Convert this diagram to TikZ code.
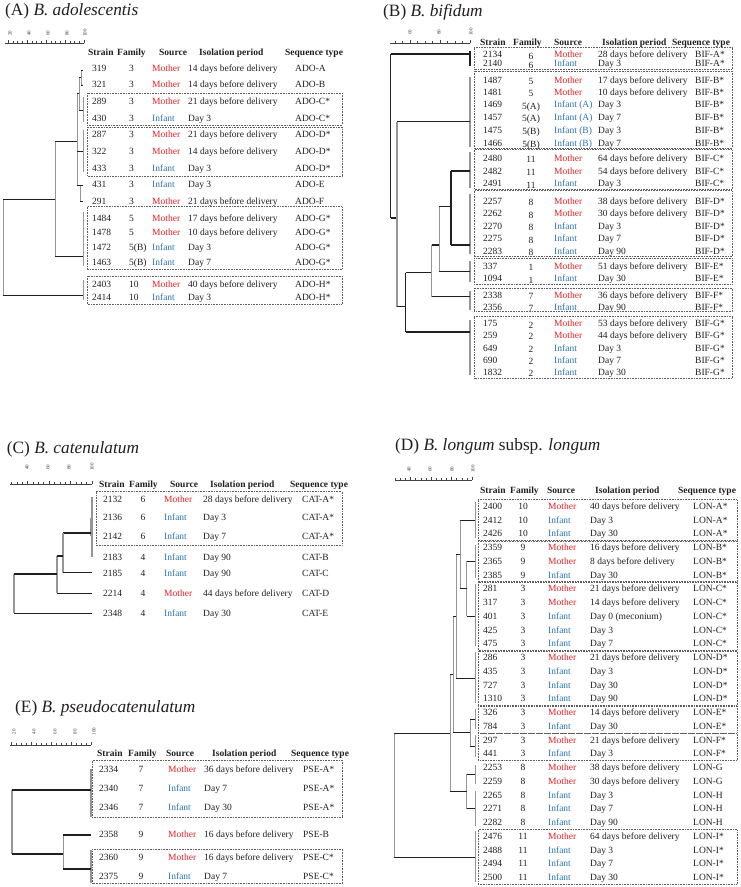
\documentclass[tikz,border=0pt]{standalone}
\usepackage{fontspec}
\setmainfont{Liberation Serif}
\definecolor{mred}{RGB}{228,34,38}
\definecolor{iblue}{RGB}{46,117,182}
\definecolor{boxgray}{RGB}{95,95,95}
\definecolor{lgray}{RGB}{150,150,150}
\definecolor{txtc}{RGB}{35,31,32}
\tikzset{
 txt/.style={font=\fontsize{9.5}{11}\selectfont, anchor=base west, inner sep=0pt, text=txtc},
 ctr/.style={txt, anchor=base},
 hdr/.style={txt, font=\fontsize{9.5}{11}\selectfont\bfseries},
 mo/.style={txt, text=mred},
 inf/.style={txt, text=iblue},
 ttl/.style={font=\fontsize{17.3}{20}\selectfont, anchor=base west, inner sep=0pt, text=txtc},
 sclab/.style={font=\fontsize{5}{6}\selectfont, rotate=90, inner sep=0pt, text=txtc!85},
 rul/.style={line width=0.5pt, draw=txtc!85},
 grp/.style={draw=boxgray, densely dotted, line width=0.6pt},
 dh/.style={line width=1pt, draw=txtc},
 dv/.style={line width=1pt, draw=lgray},
}
\begin{document}
\begin{tikzpicture}[x=1pt,y=-1pt]
\fill[white] (0,0) rectangle (740,887);
\useasboundingbox (0,0) rectangle (740,887);

%% ================= Panel A =================
\node[ttl] (A-title) at (5,15.5) {(A) \textit{B. adolescentis}};
\draw[rul] (5,43) -- (84,43);
\foreach \k in {0,...,16} \draw[rul] ({84-\k*4.75},43) -- ++(0,-1.8);
\foreach \k in {0,...,4} \draw[rul] ({84-\k*19},43) -- ++(0,-3.5);
\foreach \x/\l in {10/20,29/40,48/60,67/80,85/100}
  \node[sclab] (A-l\l) at (\x,33) {\l};
\foreach \x/\h [count=\i] in {88/Strain,117/Family,159/Source,199/Isolation period,285/Sequence type}
  \node[hdr] (A-h\i) at (\x,55.6) {\h};
\foreach \y/\sn/\fam/\sty/\src/\iso/\seq in {
 68.3/319/3/mo/Mother/14 days before delivery/ADO-A,
 84/321/3/mo/Mother/14 days before delivery/ADO-B,
 100.7/289/3/mo/Mother/21 days before delivery/ADO-C*,
 117.7/430/3/inf/Infant/Day 3/ADO-C*,
 134.3/287/3/mo/Mother/21 days before delivery/ADO-D*,
 151/322/3/mo/Mother/14 days before delivery/ADO-D*,
 167.7/433/3/inf/Infant/Day 3/ADO-D*,
 184.3/431/3/inf/Infant/Day 3/ADO-E,
 200.7/291/3/mo/Mother/21 days before delivery/ADO-F,
 217.7/1484/5/mo/Mother/17 days before delivery/ADO-G*,
 232.3/1478/5/mo/Mother/10 days before delivery/ADO-G*,
 247.3/1472/5(B)/inf/Infant/Day 3/ADO-G*,
 261.7/1463/5(B)/inf/Infant/Day 7/ADO-G*,
 284/2403/10/mo/Mother/40 days before delivery/ADO-H*,
 297/2414/10/inf/Infant/Day 3/ADO-H*}{
 \node[txt] (A-\sn-s) at (92,\y+3.3) {\sn};
 \node[txt] (A-\sn-f) at (129,\y+3.3) {\fam};
 \node[\sty] (A-\sn-o) at (152,\y+3.3) {\src};
 \node[txt] (A-\sn-i) at (188,\y+3.3) {\iso};
 \node[txt] (A-\sn-q) at (295,\y+3.3) {\seq};
}
\draw[grp] (87,93) rectangle (342,125);
\draw[grp] (87,127) rectangle (342,176);
\draw[grp] (87,206.7) rectangle (342,269.3);
\draw[grp] (87,276) rectangle (342,304);
% dendrogram A
\draw[dv] (83,97) -- (83,122);
\draw[dv] (83,130) -- (83,172);
\draw[dv] (83,212) -- (83,266);
\draw[dv] (83,280) -- (83,300);
\draw[dv] (81,70) -- (81,85);
\draw[dh] (81,70) -- (83,70); \draw[dh] (81,85) -- (83,85);
\draw[dv] (79,77.5) -- (79,110);
\draw[dh] (79,77.5) -- (81,77.5); \draw[dh] (79,110) -- (83,110);
\draw[dv] (77,93.7) -- (77,185);
\draw[dh] (77,93.7) -- (79,93.7); \draw[dh] (77,151) -- (83,151); \draw[dh] (77,185) -- (80,185);
\draw[dv] (80,185) -- (80,201);
\draw[dh] (80,185) -- (83,185); \draw[dh] (80,201) -- (83,201);
\draw[dv] (55,141) -- (55,256.7);
\draw[dh] (55,141) -- (77,141); \draw[dh] (55,256.7) -- (83,256.7);
\draw[dv] (3,199) -- (3,295);
\draw[dh] (3,199) -- (55,199); \draw[dh] (3,295) -- (83,295);

%% ================= Panel B =================
\node[ttl] (B-title) at (383,16) {(B) \textit{B. bifidum}};
\draw[rul] (390,43) -- (470,43);
\foreach \k in {0,...,10} \draw[rul] ({470-\k*7.5},43) -- ++(0,-1.8);
\foreach \k in {0,...,2} \draw[rul] ({470-\k*30},43) -- ++(0,-3.5);
\foreach \x/\l in {410/60,439/80,471/100}
  \node[sclab] (B-l\l) at (\x,32) {\l};
\foreach \x/\h [count=\i] in {480/Strain,513/Family,554/Source,602/Isolation period,672/Sequence type}
  \node[hdr] (B-h\i) at (\x,45.3) {\h};
\foreach \y/\sn/\fam/\sty/\src/\iso/\seq in {
 54.3/2134/6/mo/Mother/28 days before delivery/BIF-A*,
 63.3/2140/6/inf/Infant/Day 3/BIF-A*,
 80/1487/5/mo/Mother/17 days before delivery/BIF-B*,
 91.7/1481/5/mo/Mother/10 days before delivery/BIF-B*,
 104.3/1469/5(A)/inf/Infant (A)/Day 3/BIF-B*,
 116.7/1457/5(A)/inf/Infant (A)/Day 7/BIF-B*,
 130/1475/5(B)/inf/Infant (B)/Day 3/BIF-B*,
 142.7/1466/5(B)/inf/Infant (B)/Day 7/BIF-B*,
 158/2480/11/mo/Mother/64 days before delivery/BIF-C*,
 171/2482/11/mo/Mother/54 days before delivery/BIF-C*,
 183.3/2491/11/inf/Infant/Day 3/BIF-C*,
 200.7/2257/8/mo/Mother/38 days before delivery/BIF-D*,
 213.3/2262/8/mo/Mother/30 days before delivery/BIF-D*,
 225.7/2270/8/inf/Infant/Day 3/BIF-D*,
 238.3/2275/8/inf/Infant/Day 7/BIF-D*,
 250.7/2283/8/inf/Infant/Day 90/BIF-D*,
 266/337/1/mo/Mother/51 days before delivery/BIF-E*,
 278.3/1094/1/inf/Infant/Day 30/BIF-E*,
 295/2338/7/mo/Mother/36 days before delivery/BIF-F*,
 306.7/2356/7/inf/Infant/Day 90/BIF-F*,
 323.3/175/2/mo/Mother/53 days before delivery/BIF-G*,
 335/259/2/mo/Mother/44 days before delivery/BIF-G*,
 347.7/649/2/inf/Infant/Day 3/BIF-G*,
 360/690/2/inf/Infant/Day 7/BIF-G*,
 371.7/1832/2/inf/Infant/Day 30/BIF-G*}{
 \node[txt] (B-\sn-s) at (483,\y+3.3) {\sn};
 \node[ctr] (B-\sn-f) at (531,\y+4.8) {\fam};
 \node[\sty] (B-\sn-o) at (554,\y+3.3) {\src};
 \node[txt] (B-\sn-i) at (598,\y+3.3) {\iso};
 \node[txt] (B-\sn-q) at (695,\y+3.3) {\seq};
}
\draw[grp] (474,47.7) rectangle (732,69.3);
\draw[grp] (474,71) rectangle (732,148);
\draw[grp] (474,149.5) rectangle (732,189);
\draw[grp] (474,190.7) rectangle (732,256.7);
\draw[grp] (474,258.3) rectangle (732,284);
\draw[grp] (474,288) rectangle (732,311.7);
\draw[grp] (474,316.7) rectangle (732,378.3);
% dendrogram B
\begin{scope}[dh/.append style={line width=1.2pt}, dv/.append style={line width=1.2pt}]
\draw[dh] (470,51) -- (470,66);
\draw[dv] (470,77) -- (470,147);
\draw[dv] (470,152) -- (470,188);
\draw[dv] (470,194) -- (470,254);
\draw[dv] (470,261) -- (470,282);
\draw[dv] (470,291) -- (470,310);
\draw[dv] (470,320) -- (470,375);
\draw[dh] (390.7,54) -- (390.7,218);
\draw[dh] (390.7,54) -- (470,54); \draw[dh] (390.7,218) -- (397,218);
\draw[dv] (397,121.7) -- (397,306.7);
\draw[dh] (397,121.7) -- (470,121.7); \draw[dh] (397,306.7) -- (405.7,306.7);
\draw[dh] (405.7,272.7) -- (405.7,332);
\draw[dh] (405.7,272.7) -- (431.7,272.7); \draw[dh] (405.7,332) -- (470,332);
\draw[dv] (431.7,245) -- (431.7,296.7);
\draw[dh] (431.7,245) -- (439.3,245); \draw[dh] (431.7,296.7) -- (470,296.7);
\draw[dv] (439.3,206.7) -- (439.3,271.7);
\draw[dh] (439.3,206.7) -- (451,206.7); \draw[dh] (439.3,271.7) -- (470,271.7);
\draw[dh] (451,171) -- (451,245);
\draw[dh] (451,171) -- (470,171); \draw[dh] (451,245) -- (470,245);
\end{scope}

%% ================= Panel C =================
\node[ttl] (C-title) at (6.7,453) {(C) \textit{B. catenulatum}};
\draw[rul] (10,484) -- (92,484);
\foreach \k in {0,...,15} \draw[rul] ({92-\k*5.375},484) -- ++(0,-1.8);
\foreach \k in {0,...,3} \draw[rul] ({92-\k*21.5},484) -- ++(0,-3.5);
\foreach \x/\l in {27/40,48/60,69/80,92/100}
  \node[sclab] (C-l\l) at (\x,467) {\l};
\foreach \x/\h [count=\i] in {99/Strain,129/Family,170/Source,210/Isolation period,290/Sequence type}
  \node[hdr] (C-h\i) at (\x,487.3) {\h};
\foreach \y/\sn/\fam/\sty/\src/\iso/\seq in {
 499.3/2132/6/mo/Mother/28 days before delivery/CAT-A*,
 517.3/2136/6/inf/Infant/Day 3/CAT-A*,
 536/2142/6/inf/Infant/Day 7/CAT-A*,
 557.3/2183/4/inf/Infant/Day 90/CAT-B,
 573.3/2185/4/inf/Infant/Day 90/CAT-C,
 593.3/2214/4/mo/Mother/44 days before delivery/CAT-D,
 613.3/2348/4/inf/Infant/Day 30/CAT-E}{
 \node[txt] (C-\sn-s) at (103,\y+3.3) {\sn};
 \node[ctr] (C-\sn-f) at (143,\y+3.3) {\fam};
 \node[\sty] (C-\sn-o) at (164,\y+3.3) {\src};
 \node[txt] (C-\sn-i) at (203,\y+3.3) {\iso};
 \node[txt] (C-\sn-q) at (302,\y+3.3) {\seq};
}
\draw[grp] (96,491.7) rectangle (342,545);
% dendrogram C
\begin{scope}[dh/.append style={line width=1.2pt}, dv/.append style={line width=1.2pt}]
\draw[dv] (92,497) -- (92,557);
\draw[dv] (90.5,518) -- (90.5,536);
\draw[dh] (63,533) -- (90.5,533);
\draw[dv] (63,533) -- (63,572.7);
\draw[dh] (63,572.7) -- (92,572.7);
\draw[dv] (57,556) -- (57,593.3);
\draw[dh] (57,556) -- (63,556); \draw[dh] (57,593.3) -- (92,593.3);
\draw[dv] (14,574) -- (14,613.3);
\draw[dh] (14,574) -- (57,574); \draw[dh] (14,613.3) -- (92,613.3);
\end{scope}

%% ================= Panel D =================
\node[ttl] (D-title) at (395,450) {(D) \textit{B. longum} subsp. \textit{longum}};
\draw[rul] (395,480) -- (472,480);
\foreach \k in {0,...,15} \draw[rul] ({472-\k*5.125},480) -- ++(0,-1.8);
\foreach \k in {0,...,3} \draw[rul] ({472-\k*20.5},480) -- ++(0,-3.5);
\foreach \x/\l in {409/40,430/60,452/80,473/100}
  \node[sclab] (D-l\l) at (\x,469) {\l};
\foreach \x/\h [count=\i] in {480/Strain,510/Family,547/Source,595/Isolation period,678/Sequence type}
  \node[hdr] (D-h\i) at (\x,493.3) {\h};
\foreach \sn/\fam/\sty/\src/\iso/\seq [count=\i from 0] in {
 2400/10/mo/Mother/40 days before delivery/LON-A*,
 2412/10/inf/Infant/Day 3/LON-A*,
 2426/10/inf/Infant/Day 30/LON-A*,
 2359/9/mo/Mother/16 days before delivery/LON-B*,
 2365/9/mo/Mother/8 days before delivery/LON-B*,
 2385/9/inf/Infant/Day 30/LON-B*,
 281/3/mo/Mother/21 days before delivery/LON-C*,
 317/3/mo/Mother/14 days before delivery/LON-C*,
 401/3/inf/Infant/Day 0 (meconium)/LON-C*,
 425/3/inf/Infant/Day 3/LON-C*,
 475/3/inf/Infant/Day 7/LON-C*,
 286/3/mo/Mother/21 days before delivery/LON-D*,
 435/3/inf/Infant/Day 3/LON-D*,
 727/3/inf/Infant/Day 30/LON-D*,
 1310/3/inf/Infant/Day 90/LON-D*,
 326/3/mo/Mother/14 days before delivery/LON-E*,
 784/3/inf/Infant/Day 30/LON-E*,
 297/3/mo/Mother/21 days before delivery/LON-F*,
 441/3/inf/Infant/Day 3/LON-F*,
 2253/8/mo/Mother/38 days before delivery/LON-G,
 2259/8/mo/Mother/30 days before delivery/LON-G,
 2265/8/inf/Infant/Day 3/LON-H,
 2271/8/inf/Infant/Day 7/LON-H,
 2282/8/inf/Infant/Day 90/LON-H,
 2476/11/mo/Mother/64 days before delivery/LON-I*,
 2488/11/inf/Infant/Day 3/LON-I*,
 2494/11/inf/Infant/Day 7/LON-I*,
 2500/11/inf/Infant/Day 30/LON-I*}{
 \node[txt] (D-\sn-s) at (483,506+\i*13.75+3.3) {\sn};
 \node[ctr] (D-\sn-f) at (523,506+\i*13.75+3.3) {\fam};
 \node[\sty] (D-\sn-o) at (548,506+\i*13.75+3.3) {\src};
 \node[txt] (D-\sn-i) at (590,506+\i*13.75+3.3) {\iso};
 \node[txt] (D-\sn-q) at (693,506+\i*13.75+3.3) {\seq};
}
\foreach \a/\b in {0/2,3/5,6/10,11/14,15/16,17/18,24/27}
  \draw[grp] (478,{506+\a*13.75-6.3}) rectangle (737,{506+\b*13.75+6.8});
% dendrogram D
\foreach \a/\b in {502/538,545/578,584/646,652/703,709/729,735/757,765/784,791/826,831/882}
  \draw[dv] (475,\a) -- (475,\b);
\draw[dv] (466.7,561) -- (466.7,616);
\draw[dh] (466.7,561) -- (475,561); \draw[dh] (466.7,616) -- (475,616);
\draw[dv] (460,520) -- (460,588.5);
\draw[dh] (460,520) -- (475,520); \draw[dh] (460,588.5) -- (466.7,588.5);
\draw[dv] (456,554) -- (456,678);
\draw[dh] (456,554) -- (460,554); \draw[dh] (456,678) -- (475,678);
\draw[dv] (470,719) -- (470,746.6);
\draw[dh] (470,719) -- (475,719); \draw[dh] (470,746.6) -- (475,746.6);
\draw[dv] (453,616) -- (453,732.8);
\draw[dh] (453,616) -- (456,616); \draw[dh] (453,732.8) -- (470,732.8);
\draw[dv] (466.7,774) -- (466.7,808.5);
\draw[dh] (466.7,774) -- (475,774); \draw[dh] (466.7,808.5) -- (475,808.5);
\draw[dv] (450,674) -- (450,791);
\draw[dh] (450,674) -- (453,674); \draw[dh] (450,791) -- (466.7,791);
\draw[dv] (394,733) -- (394,857);
\draw[dh] (394,733) -- (450,733); \draw[dh] (394,857) -- (475,857);

%% ================= Panel E =================
\node[ttl] (E-title) at (15,712) {(E) \textit{B. pseudocatenulatum}};
\draw[rul] (10,745) -- (91,745);
\foreach \k in {0,...,16} \draw[rul] ({91-\k*5},745) -- ++(0,-1.8);
\foreach \k in {0,...,4} \draw[rul] ({91-\k*20},745) -- ++(0,-3.5);
\foreach \x/\l in {14/20,34/40,55/60,75/80,94/100}
  \node[sclab] (E-l\l) at (\x,731.7) {\l};
\foreach \x/\h [count=\i] in {97/Strain,128/Family,166/Source,212/Isolation period,291/Sequence type}
  \node[hdr] (E-h\i) at (\x,756) {\h};
\foreach \y/\sn/\fam/\sty/\src/\iso/\seq in {
 769.3/2334/7/mo/Mother/36 days before delivery/PSE-A*,
 787.7/2340/7/inf/Infant/Day 7/PSE-A*,
 807.3/2346/7/inf/Infant/Day 30/PSE-A*,
 834/2358/9/mo/Mother/16 days before delivery/PSE-B,
 856.7/2360/9/mo/Mother/16 days before delivery/PSE-C*,
 875.7/2375/9/inf/Infant/Day 7/PSE-C*}{
 \node[txt] (E-\sn-s) at (99,\y+3.3) {\sn};
 \node[ctr] (E-\sn-f) at (141,\y+3.3) {\fam};
 \node[\sty] (E-\sn-o) at (168,\y+3.3) {\src};
 \node[txt] (E-\sn-i) at (204,\y+3.3) {\iso};
 \node[txt] (E-\sn-q) at (303,\y+3.3) {\seq};
}
\draw[grp] (92.7,760.7) rectangle (342.7,817.3);
\draw[grp] (92.7,849.3) rectangle (342.7,883.3);
% dendrogram E
\begin{scope}[dh/.append style={line width=1.6pt}, dv/.append style={line width=1.6pt}]
\draw[dv] (90.7,769) -- (90.7,817);
\draw[dv] (90.7,850) -- (90.7,883);
\draw[dv] (11.7,790) -- (11.7,854);
\draw[dh] (11.7,790) -- (90.7,790); \draw[dh] (11.7,854) -- (63.3,854);
\draw[dv] (63.3,835) -- (63.3,869);
\draw[dh] (63.3,835) -- (90.7,835); \draw[dh] (63.3,869) -- (90.7,869);
\end{scope}
\end{tikzpicture}
\end{document}
